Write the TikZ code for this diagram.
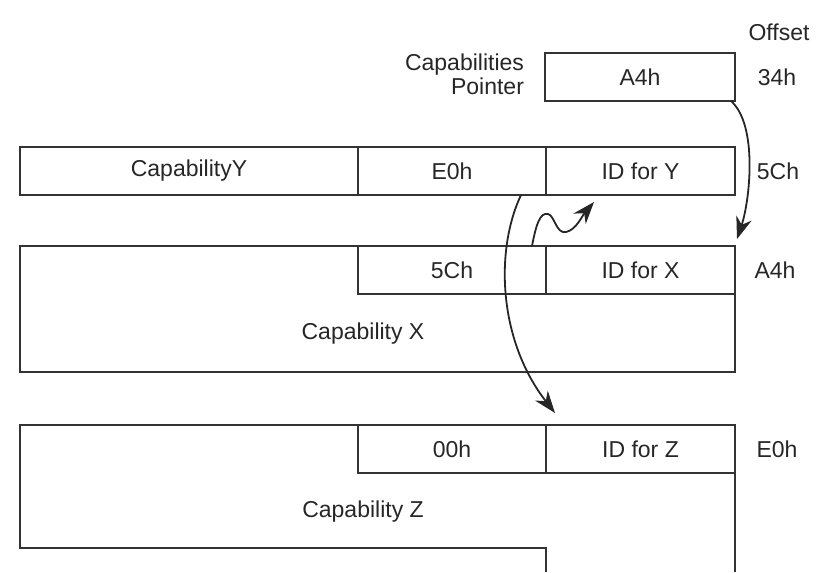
\documentclass[tikz,border=0pt]{standalone}
\usepackage{fontspec}
\setmainfont{Liberation Sans}
\usetikzlibrary{arrows.meta}

\begin{document}
\begin{tikzpicture}[x=0.5pt,y=-0.5pt,
  every node/.style={font=\fontsize{11.5}{12}\selectfont, text=black!85},
  cell/.style={draw=black!80, line width=1pt, minimum height=24pt,
    inner sep=0pt, outer sep=0pt, anchor=north west},
  frame/.style={draw=black!80, line width=1pt},
  link/.style={line width=0.9pt, black!85,
    -{Stealth[length=11pt,width=8pt,inset=3.5pt]}}]
\useasboundingbox (0,0) rectangle (817,572);
% offsets
\node (offhdr) at (779,32) {Offset};
\node (off34) at (777,77) {34h};
\node (off5c) at (778,171) {5Ch};
\node (offa4) at (775,270) {A4h};
\node (offe0) at (777,449) {E0h};
% capabilities pointer
\node[cell, minimum width=95pt] (ptr) at (545,53) {A4h};
\node[align=right, anchor=east] (ptrlbl) at (531,74) {Capabilities\\Pointer};
% capability Y
\node[cell, minimum width=169pt] (capy) at (20,147) {CapabilityY};
\node[cell, minimum width=94pt] (e0y) at (capy.north east) {E0h};
\node[cell, minimum width=94.5pt] (idy) at (e0y.north east) {ID for Y};
% capability X
\draw[frame] (20,246) rectangle (735,372);
\node[cell, minimum width=94pt] (c5c) at (358,246) {5Ch};
\node[cell, minimum width=94.5pt] (idx) at (c5c.north east) {ID for X};
\node (capx) at (363,334) {Capability X};
% capability Z
\draw[frame] (735,572) -- (735,425) -- (20,425) -- (20,548) -- (546,548) -- (546,572);
\node[cell, minimum width=94pt] (c00) at (358,425) {00h};
\node[cell, minimum width=94.5pt] (idz) at (c00.north east) {ID for Z};
\node (capz) at (363,512) {Capability Z};
%
\coordinate (tipx) at (737,239);
\coordinate (tipz) at (555,413);
\coordinate (wstart) at (532,246);
\coordinate (tipy) at (594,202);
\draw[link] ([xshift=-2pt]ptr.south east) .. controls (758,125) and (750,200) .. (tipx);
\draw[link] ([xshift=-12.5pt]e0y.south east) .. controls (495,250) and (498,340) .. (tipz);
\draw[link] (wstart) .. controls (536,225) and (540,212) .. (548,214)
  .. controls (555,216) and (556,234) .. (566,232)
  .. controls (576,230) and (582,216) .. (tipy);
\end{tikzpicture}
\end{document}
